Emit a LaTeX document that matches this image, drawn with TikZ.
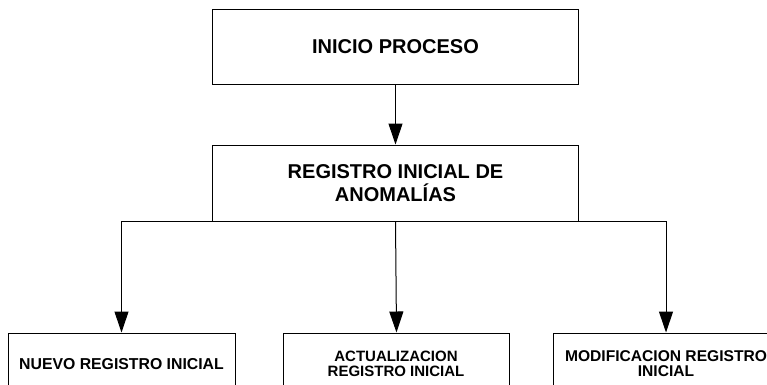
\documentclass[tikz,border=0pt]{standalone}
\usepackage{fontspec}
\setmainfont{Liberation Sans}
\usetikzlibrary{arrows.meta}
\begin{document}
\begin{tikzpicture}[x=1pt,y=-1pt,
        caja/.style={draw,line width=1pt,align=center,font=\bfseries,inner sep=0pt},
        flecha/.style={line width=1pt,-{Triangle[length=21pt,width=14pt]}}]
            \clip (0,0) rectangle (767,384);
            \node[caja,minimum width=366pt,minimum height=75pt,font=\fontsize{20}{23}\selectfont\bfseries] (I) at (395.5,46.5) {INICIO PROCESO};
            \node[caja,minimum width=366pt,minimum height=76pt,font=\fontsize{20}{23}\selectfont\bfseries] (R) at (395.5,183) {REGISTRO INICIAL DE\\ANOMALÍAS};
            \node[caja,minimum width=227pt,minimum height=62pt,font=\fontsize{15.8}{15}\selectfont\bfseries] (N) at (121.5,364) {NUEVO REGISTRO INICIAL};
            \node[caja,minimum width=226pt,minimum height=62pt,font=\fontsize{15}{15}\selectfont\bfseries] (A) at (396,364) {ACTUALIZACION\\REGISTRO INICIAL};
            \node[caja,minimum width=226pt,minimum height=62pt,font=\fontsize{15.6}{15}\selectfont\bfseries] (M) at (666,364) {MODIFICACION REGISTRO\\INICIAL};
            \draw[flecha] (I) to (R);
            \draw[flecha] (R.south) -| (N.north);
            \draw[flecha] (R.south) to ([xshift=0.5pt]A.north);
            \draw[flecha] (R.south) -| (M.north);
        \end{tikzpicture}
\end{document}
